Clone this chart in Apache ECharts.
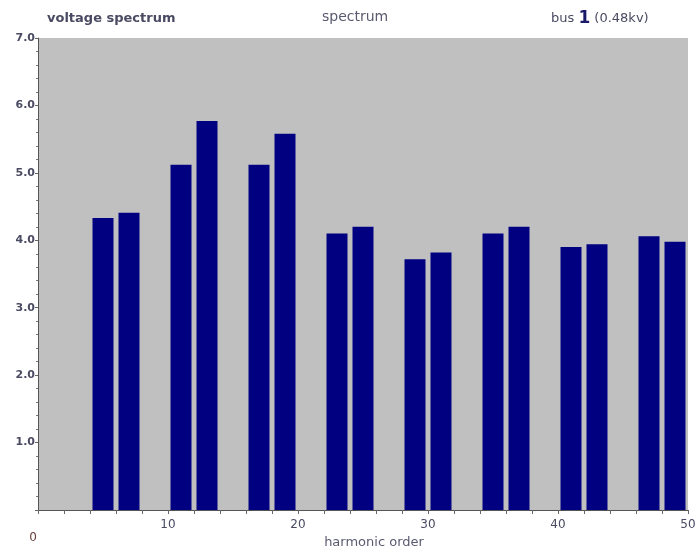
<!DOCTYPE html>
<html><head><meta charset="utf-8">
<script src="https://cdn.jsdelivr.net/npm/echarts@6/dist/echarts.min.js"></script>
<style>html,body{margin:0;padding:0;background:#fff}#c{width:695px;height:549px}</style>
</head><body><div id="c"></div>
<script>
const harmonics = [5, 7, 11, 13, 17, 19, 23, 25, 29, 31, 35, 37, 41, 43, 47, 49];
const magnitudes = [4.33, 4.41, 5.12, 5.77, 5.12, 5.58, 4.10, 4.20, 3.72, 3.82, 4.10, 4.20, 3.90, 3.94, 4.06, 3.98];
const xTickLabels = [0, 10, 20, 30, 40, 50];
const yTickLabels = [1, 2, 3, 4, 5, 6, 7];
const titleLeft = 'voltage spectrum';
const titleCenter = 'spectrum';
const busNumber = '1';
const busVoltage = '(0.48kv)';
const xAxisName = 'harmonic order';

const txtColor = '#4a4a62';
const font = 'DejaVu Sans';

const chart = echarts.init(document.getElementById('c'));
chart.setOption({
  animation: false,
  backgroundColor: '#ffffff',
  grid: { left: 38, right: 7, top: 38, bottom: 39, show: true, backgroundColor: '#c0c0c0', borderWidth: 0, outerBoundsMode: 'none', containLabel: false },
  xAxis: {
    type: 'value', min: 0, max: 50, interval: 2,
    axisLine: { show: true, lineStyle: { color: '#555', width: 1 } },
    axisTick: { show: true, length: 4, lineStyle: { color: '#666' } },
    splitLine: { show: false },
    axisLabel: {
      margin: 9, color: txtColor, fontFamily: font, fontSize: 12,
      formatter: function (v) {
        if (xTickLabels.indexOf(v) < 0) return '';
        return v === 0 ? '{z|' + v + '}' : '{n|' + v + '}';
      },
      rich: {
        n: { color: txtColor, fontFamily: font, fontSize: 12 },
        z: { color: '#6a4040', fontFamily: font, fontSize: 12, padding: [13, 10, 0, 0] }
      }
    },
    name: xAxisName, nameLocation: 'middle', nameGap: 26, nameMoveOverlap: false,
    nameTextStyle: { color: '#5a5a70', fontFamily: font, fontSize: 13, padding: [0, 0, 0, 22] }
  },
  yAxis: {
    type: 'value', min: 0, max: 7, interval: 1,
    axisLine: { show: true, lineStyle: { color: '#555', width: 1 } },
    axisTick: { show: true, length: 3, lineStyle: { color: '#666' } },
    minorTick: { show: true, splitNumber: 5, length: 2, lineStyle: { color: '#777' } },
    splitLine: { show: false },
    axisLabel: {
      margin: 3, color: txtColor, fontFamily: font, fontSize: 11, fontWeight: 'bold',
      showMinLabel: false,
      formatter: function (v) { return yTickLabels.indexOf(v) >= 0 ? v.toFixed(1) : ''; }
    }
  },
  graphic: [
    { type: 'text', left: 47, top: 12, style: { text: titleLeft, fill: txtColor, font: 'bold 13px "DejaVu Sans"' } },
    { type: 'text', left: 322, top: 10, style: { text: titleCenter, fill: '#5a5a70', font: '14px "DejaVu Sans"' } },
    { type: 'text', left: 551, top: 10, style: {
        text: '{a|bus }{b|' + busNumber + '}{a| ' + busVoltage + '}',
        rich: {
          a: { fill: txtColor, font: '13px "DejaVu Sans"' },
          b: { fill: '#1a1a6a', font: 'bold 17px "DejaVu Sans"' }
        }
    } }
  ],
  series: [{
    type: 'bar',
    barWidth: 21,
    itemStyle: { color: '#000080' },
    data: harmonics.map((h, i) => [h, magnitudes[i]])
  }]
});
</script>
</body></html>
